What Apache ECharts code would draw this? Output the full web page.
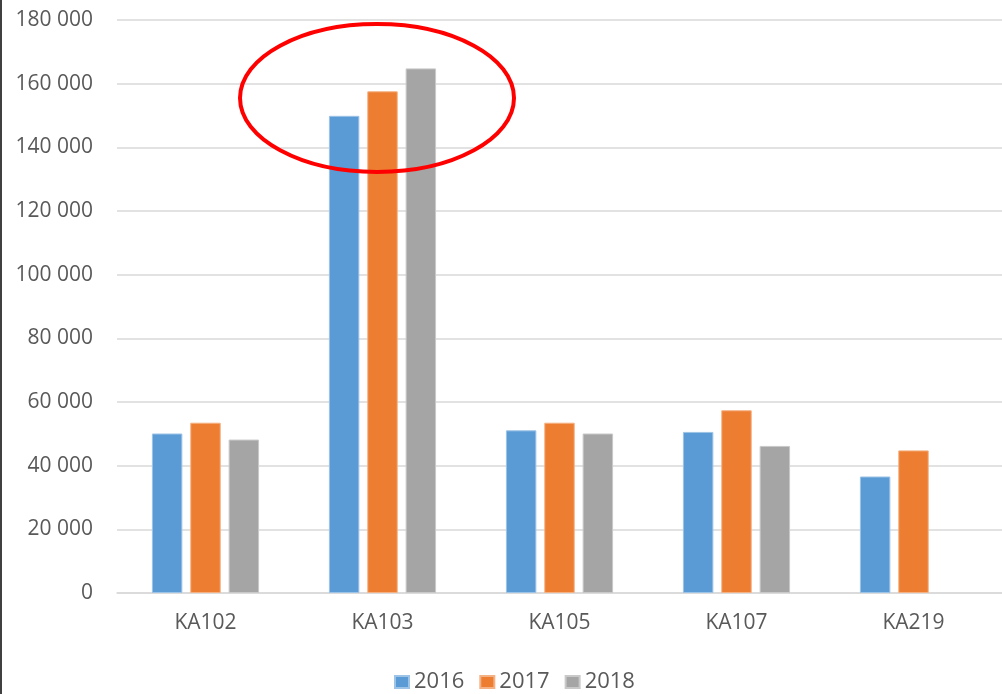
<!DOCTYPE html>
<html>
<head>
<meta charset="utf-8">
<script src="https://cdn.jsdelivr.net/npm/echarts@6/dist/echarts.min.js"></script>
<style>
html, body { margin: 0; padding: 0; background: #fff; }
#chart { width: 1002px; height: 694px; }
</style>
</head>
<body>
<div id="chart"></div>
<script>
var categories = ['KA102', 'KA103', 'KA105', 'KA107', 'KA219'];
var years = ['2016', '2017', '2018'];
var values2016 = [50100, 149900, 51100, 50600, 36600];
var values2017 = [53500, 157600, 53500, 57400, 44800];
var values2018 = [48200, 164800, 50100, 46200, null];
var colors = ['#5B9BD5', '#ED7D31', '#A5A5A5'];

var myChart = echarts.init(document.getElementById('chart'));
var labelFont = { fontFamily: 'Open Sans', fontSize: 21, color: '#595959' };

var option = {
    animation: false,
    color: colors,
    grid: {
        left: 117,
        right: 0,
        top: 20,
        bottom: 101,
        containLabel: false,
        outerBoundsMode: 'none'
    },
    legend: {
        data: years,
        left: 389,
        top: 666,
        icon: 'rect',
        itemWidth: 14,
        itemHeight: 12,
        itemGap: 15,
        textStyle: { fontFamily: 'Open Sans', fontSize: 22, color: '#595959' }
    },
    xAxis: {
        type: 'category',
        data: categories,
        axisTick: { show: false },
        axisLine: { lineStyle: { color: '#D9D9D9', width: 1.5 } },
        axisLabel: Object.assign({ margin: 20 }, labelFont)
    },
    yAxis: {
        type: 'value',
        min: 0,
        max: 180000,
        interval: 20000,
        axisLine: { show: false },
        axisTick: { show: false },
        splitLine: { lineStyle: { color: '#D9D9D9', width: 1.5 } },
        axisLabel: Object.assign({
            margin: 24,
            formatter: function (v) {
                return String(v).replace(/\B(?=(\d{3})+(?!\d))/g, ' ');
            }
        }, labelFont)
    },
    series: [
        { name: years[0], type: 'bar', data: values2016, barWidth: '17.2%', barGap: '26%',
          itemStyle: { borderColor: '#9DC3E6', borderWidth: 1 } },
        { name: years[1], type: 'bar', data: values2017, barWidth: '17.2%', barGap: '26%',
          itemStyle: { borderColor: '#F4B183', borderWidth: 1 } },
        { name: years[2], type: 'bar', data: values2018, barWidth: '17.2%', barGap: '26%',
          itemStyle: { borderColor: '#C9C9C9', borderWidth: 1 } }
    ],
    graphic: [
        {
            type: 'ellipse',
            shape: { cx: 377, cy: 98, rx: 137, ry: 74 },
            style: { fill: 'none', stroke: '#FF0000', lineWidth: 4 },
            z: 100
        },
        {
            type: 'line',
            shape: { x1: 1, y1: 0, x2: 1, y2: 694 },
            style: { stroke: '#404040', lineWidth: 2 }
        }
    ]
};
myChart.setOption(option);
</script>
</body>
</html>
